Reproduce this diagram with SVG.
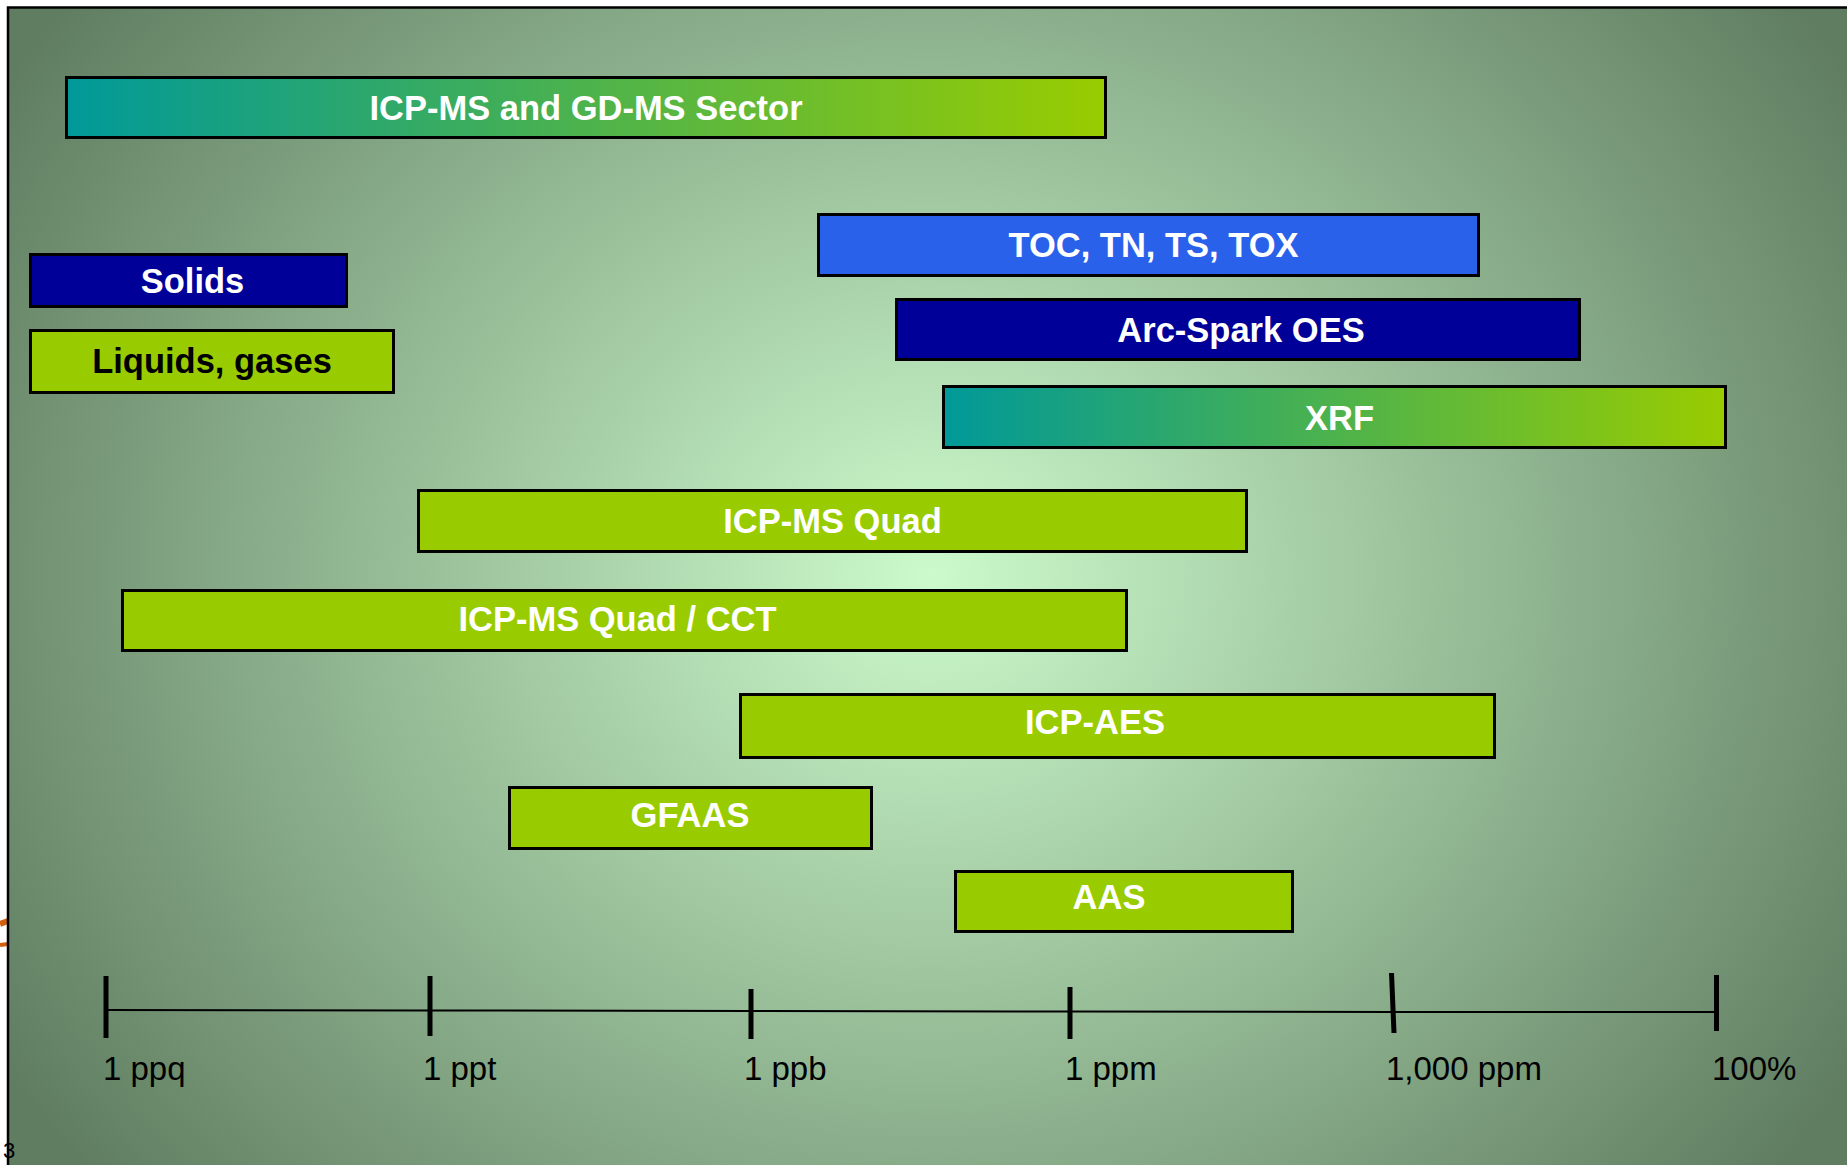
<svg xmlns="http://www.w3.org/2000/svg" width="1847" height="1165" viewBox="0 0 1847 1165">
  <defs>
    <!-- soft elliptical glow for the slide backdrop -->
    <radialGradient id="glow" gradientUnits="userSpaceOnUse" cx="0" cy="0" r="1" gradientTransform="translate(931,575) scale(1085,947)">
      <stop offset="0" stop-color="#CCFACC"/>
      <stop offset="1" stop-color="#607D61"/>
    </radialGradient>
    <!-- teal to lime bar fill -->
    <linearGradient id="tealLime" x1="0" y1="0" x2="1" y2="0">
      <stop offset="0" stop-color="#009999"/>
      <stop offset="1" stop-color="#99CC00"/>
    </linearGradient>
    <style>
      .bar { stroke: #000; stroke-width: 3; }
      .lime { fill: #99CC00; }
      .navy { fill: #000099; }
      .blue { fill: #2961EA; }
      .grad { fill: url(#tealLime); }
      .lbl { font-family: "Liberation Sans", Arial, sans-serif; font-weight: bold; font-size: 34.5px; fill: #fff; text-anchor: middle; }
      .dark { fill: #000; }
      .tick { stroke: #000; stroke-width: 5; }
      .axis { stroke: #000; stroke-width: 2; fill: none; }
      .unit { font-family: "Liberation Sans", Arial, sans-serif; font-size: 33px; fill: #000; }
    </style>
  </defs>

  <!-- page -->
  <rect x="0" y="0" width="1847" height="1165" fill="#fff"/>

  <!-- slide backdrop -->
  <rect id="backdrop" x="9" y="7" width="1838" height="1158" fill="url(#glow)"/>

  <!-- stray marks at the page margin -->
  <path d="M0,924 L8,921" stroke="#D2600F" stroke-width="6" fill="none"/>
  <path d="M0,945 L8,944" stroke="#D2600F" stroke-width="4" fill="none"/>

  <!-- slide frame -->
  <path d="M8,1165 V7.5 H1847" stroke="#000" stroke-width="2.5" fill="none"/>
  <text x="3" y="1158" font-family="Liberation Sans, Arial, sans-serif" font-size="22" fill="#000">3</text>

  <!-- technique ranges -->
  <g id="icpms-sector">
    <rect class="bar grad" x="66.5" y="77.5" width="1039" height="60"/>
    <text class="lbl" x="586" y="119.5" font-size="37">ICP-MS and GD-MS Sector</text>
  </g>
  <g id="solids">
    <rect class="bar navy" x="30.5" y="254.5" width="316" height="52"/>
    <text class="lbl" x="192.5" y="293">Solids</text>
  </g>
  <g id="liquids">
    <rect class="bar lime" x="30.5" y="330.5" width="363" height="62"/>
    <text class="lbl dark" x="212" y="373">Liquids, gases</text>
  </g>
  <g id="toc">
    <rect class="bar blue" x="818.5" y="214.5" width="660" height="61"/>
    <text class="lbl" x="1153.5" y="257">TOC, TN, TS, TOX</text>
  </g>
  <g id="arc-spark">
    <rect class="bar navy" x="896.5" y="299.5" width="683" height="60"/>
    <text class="lbl" x="1241" y="341.5">Arc-Spark OES</text>
  </g>
  <g id="xrf">
    <rect class="bar grad" x="943.5" y="386.5" width="782" height="61"/>
    <text class="lbl" x="1339.5" y="430">XRF</text>
  </g>
  <g id="icpms-quad">
    <rect class="bar lime" x="418.5" y="490.5" width="828" height="61"/>
    <text class="lbl" x="832.5" y="533">ICP-MS Quad</text>
  </g>
  <g id="icpms-cct">
    <rect class="bar lime" x="122.5" y="590.5" width="1004" height="60"/>
    <text class="lbl" x="617.5" y="630.5">ICP-MS Quad / CCT</text>
  </g>
  <g id="icp-aes">
    <rect class="bar lime" x="740.5" y="694.5" width="754" height="63"/>
    <text class="lbl" x="1095" y="733.5">ICP-AES</text>
  </g>
  <g id="gfaas">
    <rect class="bar lime" x="509.5" y="787.5" width="362" height="61"/>
    <text class="lbl" x="690" y="826.5">GFAAS</text>
  </g>
  <g id="aas">
    <rect class="bar lime" x="955.5" y="871.5" width="337" height="60"/>
    <text class="lbl" x="1109" y="909">AAS</text>
  </g>

  <!-- concentration scale -->
  <g id="scale">
    <path class="axis" d="M106,1010 L430,1010.5 L751,1011 L1070,1011.5 L1393,1012 L1716,1012"/>
    <line class="tick" x1="106" y1="976" x2="106" y2="1038"/>
    <line class="tick" x1="430" y1="976" x2="430" y2="1036"/>
    <line class="tick" x1="751" y1="989" x2="751" y2="1039"/>
    <line class="tick" x1="1070" y1="987" x2="1070" y2="1039"/>
    <line class="tick" x1="1391.5" y1="973" x2="1394" y2="1033"/>
    <line class="tick" x1="1716.5" y1="975" x2="1716.5" y2="1031"/>
    <text class="unit" x="103" y="1080">1 ppq</text>
    <text class="unit" x="423" y="1080">1 ppt</text>
    <text class="unit" x="744" y="1080">1 ppb</text>
    <text class="unit" x="1065" y="1080">1 ppm</text>
    <text class="unit" x="1386" y="1080">1,000 ppm</text>
    <text class="unit" x="1712" y="1080">100%</text>
  </g>
</svg>
